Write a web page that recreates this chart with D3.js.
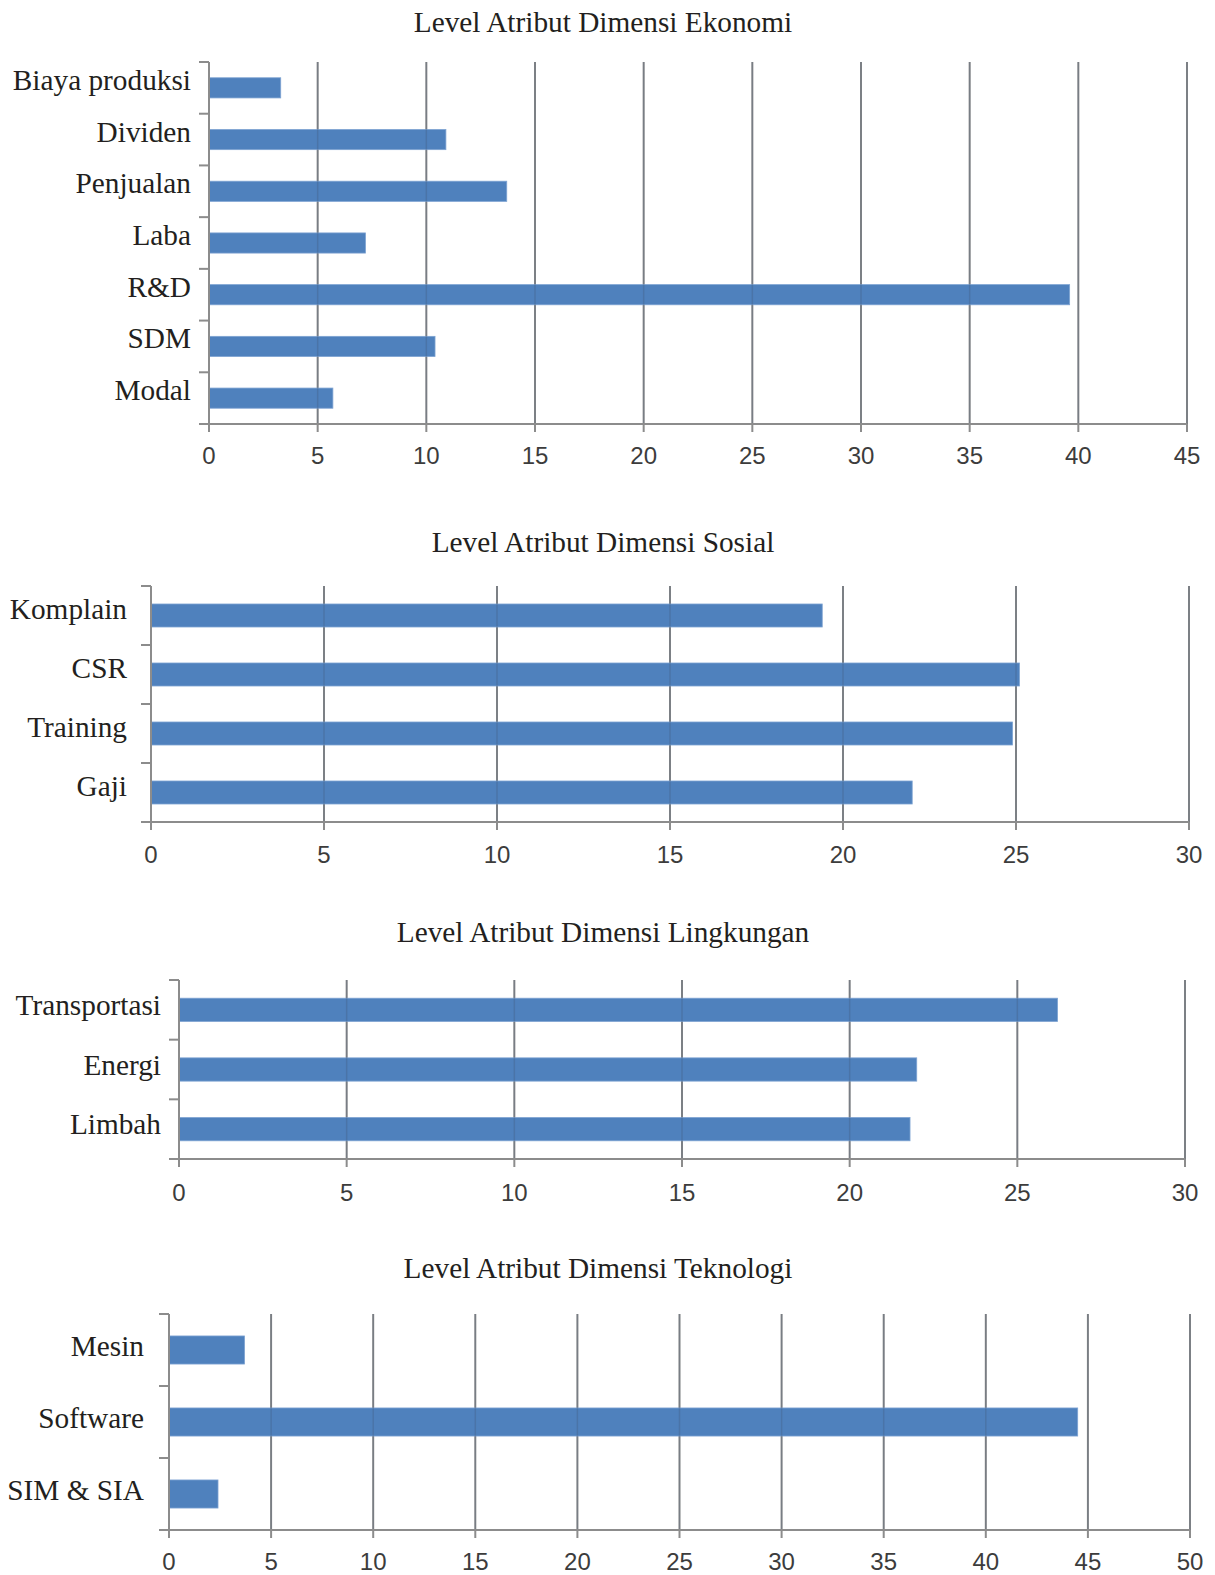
<!DOCTYPE html>
<html>
<head>
<meta charset="utf-8">
<script src="https://cdn.jsdelivr.net/npm/d3@7"></script>
<style>
  html, body { margin: 0; padding: 0; background: #ffffff; }
  svg { display: block; }
</style>
</head>
<body>
<script>
// ---------------- DATA ----------------
const ekonomiTitle = "Level Atribut Dimensi Ekonomi";
const ekonomiCategories = ["Biaya produksi", "Dividen", "Penjualan", "Laba", "R&D", "SDM", "Modal"];
const ekonomiValues = [3.3, 10.9, 13.7, 7.2, 39.6, 10.4, 5.7];
const ekonomiTicks = [0, 5, 10, 15, 20, 25, 30, 35, 40, 45];

const sosialTitle = "Level Atribut Dimensi Sosial";
const sosialCategories = ["Komplain", "CSR", "Training", "Gaji"];
const sosialValues = [19.4, 25.1, 24.9, 22.0];
const sosialTicks = [0, 5, 10, 15, 20, 25, 30];

const lingkunganTitle = "Level Atribut Dimensi Lingkungan";
const lingkunganCategories = ["Transportasi", "Energi", "Limbah"];
const lingkunganValues = [26.2, 22.0, 21.8];
const lingkunganTicks = [0, 5, 10, 15, 20, 25, 30];

const teknologiTitle = "Level Atribut Dimensi Teknologi";
const teknologiCategories = ["Mesin", "Software", "SIM & SIA"];
const teknologiValues = [3.7, 44.5, 2.4];
const teknologiTicks = [0, 5, 10, 15, 20, 25, 30, 35, 40, 45, 50];

// ---------------- LAYOUT (positions / sizes, kept apart from data) ----------------
const layouts = [
  { x0: 209, x1: 1187, yTop: 62,   yBot: 424,  titleX: 603, titleY: 32,   labelGap: 18, labelDy: 2, tickDy: 40 },
  { x0: 151, x1: 1189, yTop: 586,  yBot: 822,  titleX: 603, titleY: 552,  labelGap: 24, labelDy: 3, tickDy: 41 },
  { x0: 179, x1: 1185, yTop: 980,  yBot: 1159, titleX: 603, titleY: 942,  labelGap: 18, labelDy: 5, tickDy: 42 },
  { x0: 169, x1: 1190, yTop: 1314, yBot: 1530, titleX: 598, titleY: 1278, labelGap: 25, labelDy: 6, tickDy: 40 }
];

const charts = [
  { title: ekonomiTitle,    categories: ekonomiCategories,    values: ekonomiValues,    ticks: ekonomiTicks },
  { title: sosialTitle,     categories: sosialCategories,     values: sosialValues,     ticks: sosialTicks },
  { title: lingkunganTitle, categories: lingkunganCategories, values: lingkunganValues, ticks: lingkunganTicks },
  { title: teknologiTitle,  categories: teknologiCategories,  values: teknologiValues,  ticks: teknologiTicks }
];

const BAR = "#4F81BD";
const GRID = "#8c8c8c";
const SERIF = "'Liberation Serif', 'Times New Roman', serif";
const SANS = "'Liberation Sans', Arial, sans-serif";

const svg = d3.select("body").append("svg")
  .attr("width", 1215).attr("height", 1575);

charts.forEach((c, i) => {
  const L = layouts[i];
  const g = svg.append("g");
  const n = c.categories.length;
  const maxV = c.ticks[c.ticks.length - 1];

  const x = d3.scaleLinear().domain([0, maxV]).range([L.x0, L.x1]);
  const y = d3.scaleBand().domain(c.categories).range([L.yTop, L.yBot])
    .paddingInner(0.61).paddingOuter(0.305);
  const yIdx = d3.scaleLinear().domain([0, n]).range([L.yTop, L.yBot]);

  const gridTicks = c.ticks.filter(t => t > 0);

  // Gridlines (under bars)
  g.append("g").selectAll("line").data(gridTicks).join("line")
    .attr("x1", d => x(d)).attr("x2", d => x(d))
    .attr("y1", L.yTop).attr("y2", L.yBot)
    .attr("stroke", GRID).attr("stroke-width", 2);

  // Bars
  g.append("g").selectAll("rect").data(c.categories).join("rect")
    .attr("x", x(0))
    .attr("y", d => y(d))
    .attr("width", (d, k) => x(c.values[k]) - x(0))
    .attr("height", y.bandwidth())
    .attr("fill", BAR)
    .attr("stroke", "#7ea3d2").attr("stroke-width", 0.8);

  // Gridlines faintly visible through bars
  g.append("g").selectAll("line").data(gridTicks).join("line")
    .attr("x1", d => x(d)).attr("x2", d => x(d))
    .attr("y1", L.yTop).attr("y2", L.yBot)
    .attr("stroke", "#3a4f6a").attr("stroke-opacity", 0.25).attr("stroke-width", 1.5);

  // Y axis line and band-boundary ticks
  g.append("line")
    .attr("x1", x(0)).attr("x2", x(0)).attr("y1", L.yTop).attr("y2", L.yBot)
    .attr("stroke", GRID).attr("stroke-width", 2);
  g.append("g").selectAll("line").data(d3.range(n + 1)).join("line")
    .attr("x1", x(0) - 10).attr("x2", x(0))
    .attr("y1", d => yIdx(d)).attr("y2", d => yIdx(d))
    .attr("stroke", GRID).attr("stroke-width", 2);

  // X axis line and ticks
  g.append("line")
    .attr("x1", x(0)).attr("x2", x(maxV)).attr("y1", L.yBot).attr("y2", L.yBot)
    .attr("stroke", GRID).attr("stroke-width", 2);
  g.append("g").selectAll("line").data(c.ticks).join("line")
    .attr("x1", d => x(d)).attr("x2", d => x(d))
    .attr("y1", L.yBot).attr("y2", L.yBot + 8)
    .attr("stroke", GRID).attr("stroke-width", 2);

  // Tick labels
  g.append("g").selectAll("text").data(c.ticks).join("text")
    .attr("x", d => x(d)).attr("y", L.yBot + L.tickDy)
    .attr("text-anchor", "middle")
    .attr("font-family", SANS).attr("font-size", 24)
    .attr("fill", "#3c3c3c")
    .text(d => d);

  // Category labels
  g.append("g").selectAll("text").data(c.categories).join("text")
    .attr("x", x(0) - L.labelGap)
    .attr("y", d => y(d) + y.bandwidth() / 2 + L.labelDy)
    .attr("text-anchor", "end")
    .attr("font-family", SERIF).attr("font-size", 29.3)
    .attr("fill", "#231f20")
    .text(d => d);

  // Title
  g.append("text")
    .attr("x", L.titleX).attr("y", L.titleY)
    .attr("text-anchor", "middle")
    .attr("font-family", SERIF).attr("font-size", 29.3)
    .attr("fill", "#231f20")
    .text(c.title);
});
</script>
</body>
</html>
